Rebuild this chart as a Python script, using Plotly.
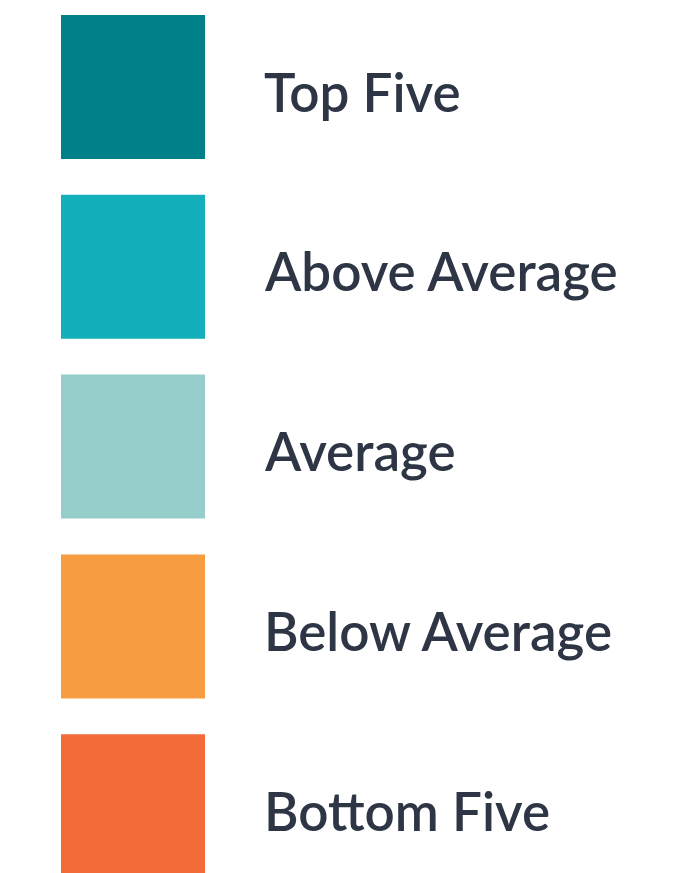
import plotly.graph_objects as go

categories = ["Top Five", "Above Average", "Average", "Below Average", "Bottom Five"]
colors = ["#00818a", "#13b0bb", "#94cdca", "#f89c40", "#f26b38"]

W, H = 688, 873
pitch = 179.8
first_center = 87
y_top = -first_center / pitch
y_bot = (H - first_center) / pitch

fig = go.Figure()
fig.add_trace(go.Scatter(
    x=[133] * len(categories),
    y=categories,
    mode="markers",
    marker=dict(symbol="square", size=144, color=colors, line=dict(width=0)),
    hoverinfo="text",
    text=categories,
    showlegend=False,
))
for c in categories:
    fig.add_annotation(x=262, y=c, text=c, showarrow=False, xanchor="left", yanchor="middle",
                       font=dict(family="Lato", size=53, color="#2e3645", weight=600), yshift=-4)

fig.update_layout(
    width=W, height=H,
    margin=dict(l=0, r=0, t=0, b=0),
    paper_bgcolor="white", plot_bgcolor="white",
    xaxis=dict(range=[0, W], visible=False, fixedrange=True),
    yaxis=dict(type="category", categoryorder="array", categoryarray=categories,
               range=[y_bot, y_top], visible=False, fixedrange=True),
)
fig.write_html("out.html", config={"displayModeBar": False},
               post_script="document.body.style.margin='0px';document.body.style.overflow='hidden';")
